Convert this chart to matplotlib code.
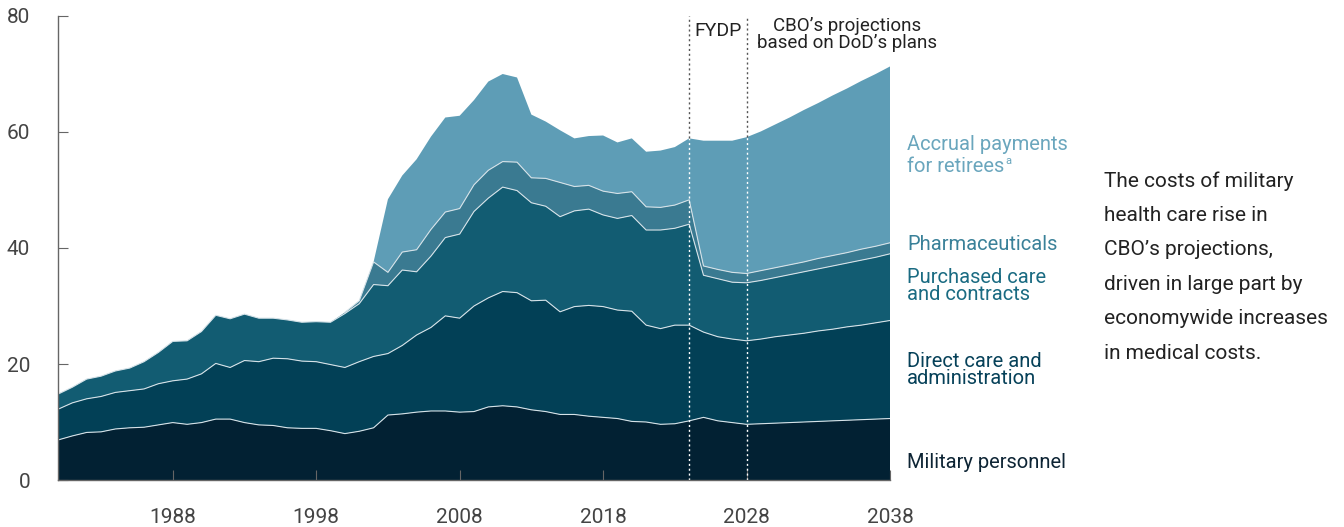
import numpy as np
import matplotlib.pyplot as plt

plt.rcParams["font.family"] = ["Roboto", "DejaVu Sans"]

years = np.arange(1980, 2039)

# cumulative tops of each layer, billions of dollars
military_top = [
    6.9, 7.6, 8.2, 8.3, 8.8, 9.0, 9.1, 9.5, 9.9, 9.6,
    9.9, 10.5, 10.5, 9.9, 9.5, 9.4, 9.0, 8.9, 8.9, 8.5,
    8.0, 8.4, 9.0, 11.2, 11.4, 11.7, 11.9, 11.9, 11.7, 11.8,
    12.6, 12.8, 12.6, 12.1, 11.8, 11.3, 11.3, 11.0, 10.8, 10.6,
    10.1, 10.0, 9.6, 9.7, 10.2, 10.8, 10.2, 9.9, 9.6, 9.7,
    9.8, 9.9, 10.0, 10.1, 10.2, 10.3, 10.4, 10.5, 10.6,
]
direct_top = [
    12.2, 13.3, 14.0, 14.4, 15.1, 15.4, 15.7, 16.6, 17.1, 17.4,
    18.3, 20.1, 19.4, 20.6, 20.4, 21.0, 20.9, 20.5, 20.4, 19.9,
    19.4, 20.4, 21.3, 21.8, 23.2, 25.0, 26.3, 28.3, 27.9, 30.0,
    31.4, 32.5, 32.3, 30.9, 31.0, 29.0, 29.9, 30.1, 29.9, 29.3,
    29.1, 26.7, 26.1, 26.7, 26.7, 25.5, 24.7, 24.3, 24.0, 24.3,
    24.7, 25.0, 25.3, 25.7, 26.0, 26.4, 26.7, 27.1, 27.5,
]
purchased_top = [
    14.8, 16.0, 17.4, 17.9, 18.8, 19.3, 20.4, 22.0, 23.9, 24.0,
    25.6, 28.4, 27.8, 28.6, 27.9, 27.9, 27.6, 27.2, 27.3, 27.2,
    28.7, 30.4, 33.7, 33.5, 36.2, 35.9, 38.6, 41.8, 42.4, 46.3,
    48.6, 50.5, 49.9, 47.8, 47.2, 45.4, 46.4, 46.7, 45.7, 45.1,
    45.6, 43.1, 43.1, 43.4, 44.1, 35.3, 34.7, 34.1, 34.0, 34.4,
    34.9, 35.4, 35.9, 36.4, 36.9, 37.4, 37.9, 38.4, 39.0,
]
pharma_top = [
    14.8, 16.0, 17.4, 17.9, 18.8, 19.3, 20.4, 22.0, 23.9, 24.0,
    25.6, 28.4, 27.8, 28.6, 27.9, 27.9, 27.6, 27.2, 27.3, 27.2,
    28.9, 30.9, 37.6, 35.8, 39.3, 39.7, 43.2, 46.2, 46.8, 50.9,
    53.4, 54.9, 54.8, 52.1, 52.0, 51.3, 50.6, 50.8, 49.8, 49.4,
    49.7, 47.1, 47.0, 47.4, 48.3, 36.9, 36.3, 35.8, 35.6, 36.1,
    36.6, 37.1, 37.6, 38.2, 38.7, 39.2, 39.8, 40.3, 40.9,
]
total = [
    14.8, 16.0, 17.4, 17.9, 18.8, 19.3, 20.4, 22.0, 23.9, 24.0,
    25.6, 28.4, 27.8, 28.6, 27.9, 27.9, 27.6, 27.2, 27.3, 27.2,
    28.9, 30.9, 37.6, 48.4, 52.5, 55.3, 59.2, 62.5, 62.8, 65.5,
    68.7, 70.0, 69.4, 63.0, 61.8, 60.3, 58.9, 59.3, 59.4, 58.2,
    58.9, 56.6, 56.8, 57.4, 58.9, 58.5, 58.5, 58.5, 59.1, 60.1,
    61.3, 62.5, 63.8, 65.0, 66.3, 67.5, 68.8, 70.0, 71.3,
]

labels = ["Military personnel", "Direct care and\nadministration",
          "Purchased care\nand contracts", "Pharmaceuticals",
          "Accrual payments"]
colors = ["#022133", "#024056", "#125c72", "#3a7a91", "#5e9db6"]
label_colors = ["#0d2434", "#064159", "#1a6b82", "#3a8199", "#6aa6bd"]
label_y = [462, 370, 286, 245, 144]  # pixel rows of label centres

tops = np.array([military_top, direct_top, purchased_top, pharma_top, total])
layers = np.diff(np.vstack([np.zeros(len(years)), tops]), axis=0)

fig = plt.figure(figsize=(13.44, 5.27), dpi=100)
ax = fig.add_axes([58 / 1344, 1 - 480 / 527, (890 - 58) / 1344, (480 - 16) / 527])

ax.stackplot(years, layers, colors=colors, linewidth=0)
for top in tops[:3]:
    ax.plot(years, top, color="#d5e2e8", lw=0.8)
ax.plot(years[20:], tops[3][20:], color="#d5e2e8", lw=0.8)

# FYDP boundaries
for yr in [2024, 2028]:
    v = total[yr - 1980]
    ax.plot([yr, yr], [0, v], color="white", lw=1, ls=(0, (1.5, 2)))
    ax.plot([yr, yr], [v, 80], color="#555555", lw=1, ls=(0, (1.5, 2)))

ax.text(2026, 77.4, "FYDP", ha="center", va="center", fontsize=14, color="#222222")
ax.text(2035.0, 76.8, "CBO\u2019s projections\nbased on DoD\u2019s plans", ha="center",
        va="center", fontsize=13.5, color="#222222", linespacing=0.95)

ax.set_xlim(1980, 2038)
ax.set_ylim(0, 80)
ax.set_xticks([1988, 1998, 2008, 2018, 2028, 2038])
ax.set_yticks([0, 20, 40, 60, 80])
ax.tick_params(axis="both", direction="in", length=7, color="#666666",
               labelcolor="#444444", labelsize=15)
ax.tick_params(axis="x", pad=20)
ax.tick_params(axis="y", pad=20)
for s in ["top", "right"]:
    ax.spines[s].set_visible(False)
for s in ["left", "bottom"]:
    ax.spines[s].set_color("#666666")
    ax.spines[s].set_linewidth(1)

# series labels on the right
for lab, c, py in zip(labels, label_colors, label_y):
    fig.text(907 / 1344, 1 - py / 527, lab, ha="left", va="center",
             fontsize=14.5, color=c, linespacing=0.9)
t_ret = fig.text(907 / 1344, 1 - 166 / 527, "for retirees", ha="left", va="center",
                 fontsize=14.5, color=label_colors[4])
ax.annotate("a", xy=(1, 0.5), xycoords=t_ret, xytext=(1, 0), textcoords="offset points",
            fontsize=8, color=label_colors[4], ha="left", va="bottom")

fig.text(1104 / 1344, 1 - 171 / 527,
         "The costs of military\nhealth care rise in\nCBO\u2019s projections,\n"
         "driven in large part by\neconomywide increases\nin medical costs.",
         ha="left", va="top", fontsize=15, color="#222222", linespacing=2.03)

fig.savefig("out.png", dpi=100)
